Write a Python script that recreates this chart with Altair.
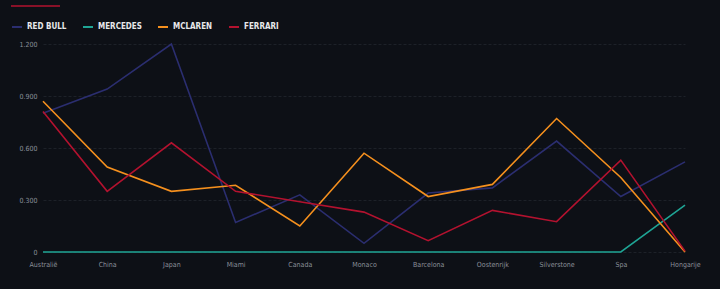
import altair as alt
import pandas as pd

races = ["Australië", "China", "Japan", "Miami", "Canada", "Monaco",
         "Barcelona", "Oostenrijk", "Silverstone", "Spa", "Hongarije"]
teams = ["RED BULL", "MERCEDES", "MCLAREN", "FERRARI"]
colors = ["#2b2e70", "#1fa595", "#f5901e", "#b3122f"]

red_bull = [0.80, 0.94, 1.20, 0.17, 0.33, 0.05, 0.34, 0.37, 0.64, 0.32, 0.52]
mercedes = [0, 0, 0, 0, 0, 0, 0, 0, 0, 0, 0.27]
mclaren = [0.87, 0.49, 0.35, 0.385, 0.15, 0.57, 0.32, 0.39, 0.77, 0.43, 0.0]
ferrari = [0.81, 0.35, 0.63, 0.35, 0.29, 0.23, 0.065, 0.24, 0.175, 0.53, 0.005]

series = dict(zip(teams, [red_bull, mercedes, mclaren, ferrari]))
rows = []
for t in teams:
    for r, v in zip(races, series[t]):
        rows.append({"race": r, "team": t, "value": v})
df = pd.DataFrame(rows)

FONT = "DejaVu Sans Condensed"

lines = alt.Chart(df).mark_line(strokeWidth=1.6).encode(
    x=alt.X("race:N", sort=races, title=None,
            scale=alt.Scale(type="point", padding=0),
            axis=alt.Axis(labelAngle=0, labelColor="#8a8f98", labelFont=FONT,
                          labelFontSize=7, domain=False, ticks=False, grid=False,
                          labelPadding=8)),
    y=alt.Y("value:Q", title=None,
            scale=alt.Scale(domain=[0, 1.2]),
            axis=alt.Axis(values=[0, 0.3, 0.6, 0.9, 1.2],
                          labelExpr="datum.value == 0 ? '0' : format(datum.value, '.3f')",
                          labelColor="#8a8f98", labelFont=FONT, labelFontSize=7,
                          domain=False, ticks=False, labelPadding=6,
                          gridColor="#22262d", gridDash=[3, 2], gridWidth=0.8)),
    color=alt.Color("team:N", sort=teams,
                    scale=alt.Scale(domain=teams, range=colors),
                    legend=alt.Legend(title=None, orient="none", legendX=-32, legendY=-23,
                                      direction="horizontal", symbolType="stroke",
                                      symbolStrokeWidth=2, symbolSize=100,
                                      labelColor="#e8e8ea", labelFont=FONT,
                                      labelFontSize=8, labelFontWeight="bold",
                                      columnPadding=12, symbolOffset=0)),
)

deco = alt.Chart(pd.DataFrame({"a": [1]})).mark_rule(color="#b3122f", strokeWidth=1.5).encode(
    x=alt.value(-32), x2=alt.value(17), y=alt.value(-38)
)

chart = alt.layer(deco, lines).properties(
    width=642, height=208,
    autosize=alt.AutoSizeParams(type="none"),
    padding={"left": 43, "top": 44, "right": 35, "bottom": 37},
    background="#0d1016",
).configure_view(stroke=None)

chart.save("out.html", embed_options={"renderer": "svg", "actions": False})
